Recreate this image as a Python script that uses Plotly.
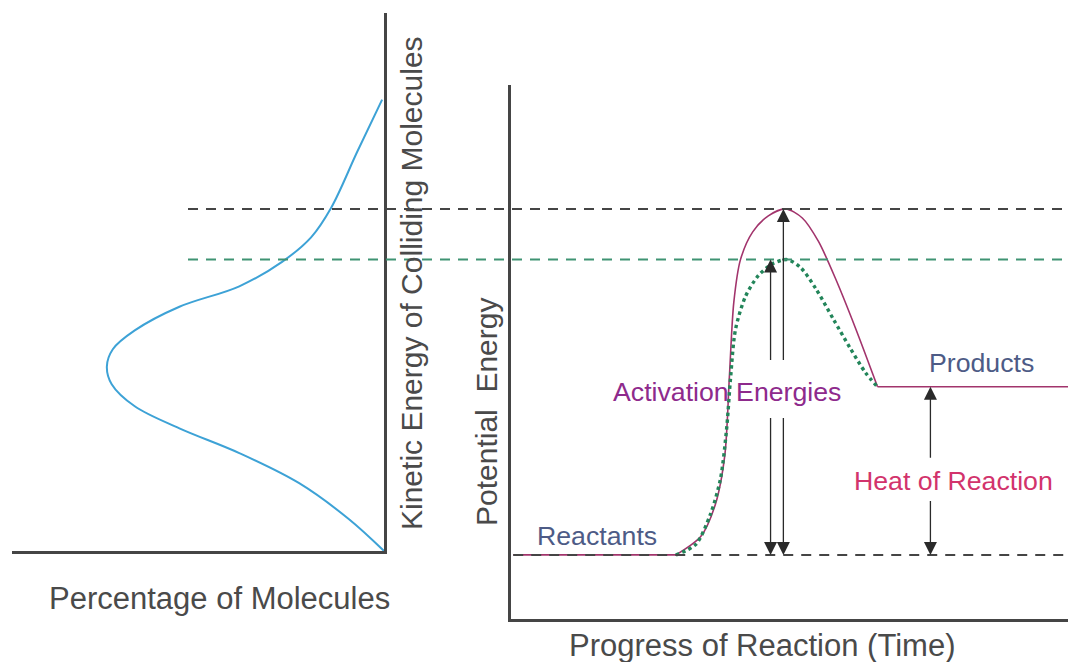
import plotly.graph_objects as go

# ---------------- data ----------------
# Left panel: distribution of kinetic energies (percentage vs energy)
dist_pct = [0, 9.4, 22.8, 38.9, 55.0, 67.0, 73.2, 74.5, 72.9, 67.0, 55.0, 38.9,
            27.3, 19.6, 14.2, 7.2, 0.5]
dist_energy = [0, 5.9, 12.6, 18.2, 22.8, 26.9, 31.0, 34.3, 37.5, 41.0, 45.4, 49.2,
               53.8, 58.3, 63.8, 74.2, 83.9]

# Right panel: potential energy profile (progress 0-100, energy 0-100)
reactant_progress = [0.4, 29.6]
product_progress = [65.8, 100]
uncat_progress = [29.6, 34.1, 36.7, 38.4, 39.2, 40.0, 41.2, 43.4, 46.2, 49.3,
                  52.3, 55.2, 58.2, 61.8, 65.8]
uncat_energy = [12.0, 15.5, 21.5, 30.8, 45.2, 59.3, 67.3, 72.5, 75.5, 76.8,
                75.1, 70.7, 63.9, 54.6, 43.5]

cat_progress = [29.6, 33.2, 35.8, 37.6, 38.7, 39.4, 40.3, 42.1, 44.4, 46.9, 49.6,
                52.0, 54.7, 57.9, 60.9, 63.6, 65.6]
cat_energy = [12.0, 14.0, 19.6, 26.2, 35.5, 44.9, 54.2, 60.4, 64.3, 66.5, 67.3,
              65.8, 61.9, 56.1, 50.7, 46.2, 43.7]

reactant_level = 12.0
product_level = 43.5
uncat_peak = 76.8
cat_peak = 67.3
cat_arrow_x = 46.6
uncat_arrow_x = 48.9
heat_arrow_x = 75.3
ea_gap = [48.2, 37.9]     # break in activation-energy arrows (for label)
heat_gap = [29.9, 22.4]   # break in heat-of-reaction arrow (for label)

labels = {
    "Reactants": (15.5, 15.5),
    "Products": (84.5, 48.0),
    "Activation Energies": (38.7, 42.6),
    "Heat of Reaction": (79.4, 25.8),
}

# ---------------- layout helpers ----------------
OFF = 8                      # page body margin
W, H = 1076 - OFF, 662 - OFF


def px(x):
    return (x - OFF) / W


def py(y):
    return 1 - (y - OFF) / H


AX = "#454545"
LBL = "#4d5b86"
MAG = "#a2346c"
FONT = "Liberation Sans, Arial, sans-serif"

fig = go.Figure()

# Left curve
fig.add_trace(go.Scatter(x=dist_pct, y=dist_energy, mode="lines",
                         line=dict(color="#3da2d6", width=2, shape="spline", smoothing=1.0),
                         xaxis="x", yaxis="y", hoverinfo="skip"))

# flat reactant / product levels
fig.add_trace(go.Scatter(x=reactant_progress, y=[reactant_level] * 2, mode="lines",
                         line=dict(color=MAG, width=1.6), xaxis="x2", yaxis="y2",
                         hoverinfo="skip"))
fig.add_trace(go.Scatter(x=product_progress, y=[product_level] * 2, mode="lines",
                         line=dict(color=MAG, width=1.6), xaxis="x2", yaxis="y2",
                         hoverinfo="skip"))
# uncatalysed curve
fig.add_trace(go.Scatter(x=uncat_progress, y=uncat_energy, mode="lines",
                         line=dict(color=MAG, width=1.6, shape="spline", smoothing=0.8),
                         xaxis="x2", yaxis="y2", hoverinfo="skip"))
# catalysed dotted curve
fig.add_trace(go.Scatter(x=cat_progress, y=cat_energy, mode="lines",
                         line=dict(color="#23855a", width=3.4, dash="dot",
                                   shape="spline", smoothing=0.8),
                         xaxis="x2", yaxis="y2", hoverinfo="skip"))

shapes = []
shapes.append(dict(type="line", xref="paper", yref="y2", x0=px(188), x1=px(1065),
                   y0=uncat_peak, y1=uncat_peak,
                   line=dict(color=AX, width=2, dash="10px,8px")))
shapes.append(dict(type="line", xref="paper", yref="y2", x0=px(188), x1=px(1065),
                   y0=cat_peak, y1=cat_peak,
                   line=dict(color="#3f9373", width=2, dash="10px,8px")))
shapes.append(dict(type="line", xref="x2", yref="y2", x0=0.4, x1=99.5,
                   y0=reactant_level, y1=reactant_level,
                   line=dict(color=AX, width=2, dash="10px,8px")))

annotations = []


def arrow(x, y_head, y_tail):
    annotations.append(dict(x=x, y=y_head, ax=x, ay=y_tail, xref="x2", yref="y2",
                            axref="x2", ayref="y2", text="", showarrow=True,
                            arrowhead=2, arrowsize=2.0, arrowwidth=1.3,
                            arrowcolor="#2a2a2a", standoff=0))


for xa, peak in [(cat_arrow_x, cat_peak), (uncat_arrow_x, uncat_peak)]:
    arrow(xa, peak, ea_gap[0])
    arrow(xa, reactant_level, ea_gap[1])
arrow(heat_arrow_x, product_level, heat_gap[0])
arrow(heat_arrow_x, reactant_level, heat_gap[1])

label_colors = {"Reactants": LBL, "Products": LBL,
                "Activation Energies": "#8e2a8c", "Heat of Reaction": "#d2336c"}
for name, (lx, ly) in labels.items():
    annotations.append(dict(x=lx, y=ly, xref="x2", yref="y2", text=name,
                            showarrow=False, xanchor="center", yanchor="middle",
                            font=dict(family=FONT, size=26.7, color=label_colors[name])))

titles = [
    ("Kinetic Energy of Colliding Molecules", 411, 283, -90, 30),
    ("Percentage of Molecules", 219, 598, 0, 31),
    ("Potential  Energy", 486, 412, -90, 30),
    ("Progress of Reaction (Time)", 762, 645, 0, 31),
]
for text, tx, ty, ang, sz in titles:
    annotations.append(dict(x=px(tx), y=py(ty), xref="paper", yref="paper", text=text,
                            textangle=ang, showarrow=False, xanchor="center",
                            yanchor="middle",
                            font=dict(family=FONT, size=sz, color="#4a4a4a")))

axis_common = dict(showgrid=False, zeroline=False, showticklabels=False, ticks="",
                   showline=True, linecolor=AX, linewidth=3, fixedrange=True)

fig.update_layout(
    width=W, height=H, margin=dict(l=0, r=0, t=0, b=0),
    paper_bgcolor="white", plot_bgcolor="white", showlegend=False,
    xaxis=dict(domain=[px(12), px(384)], range=[100, 0], anchor="y", **axis_common),
    yaxis=dict(domain=[py(551), py(13)], range=[0, 100], anchor="x",
               side="right", **axis_common),
    xaxis2=dict(domain=[px(511), px(1068)], range=[0, 100], anchor="y2", **axis_common),
    yaxis2=dict(domain=[py(619), py(85)], range=[0, 100], anchor="x2",
                **axis_common),
    shapes=shapes, annotations=annotations,
)

fig.write_html("out.html")
